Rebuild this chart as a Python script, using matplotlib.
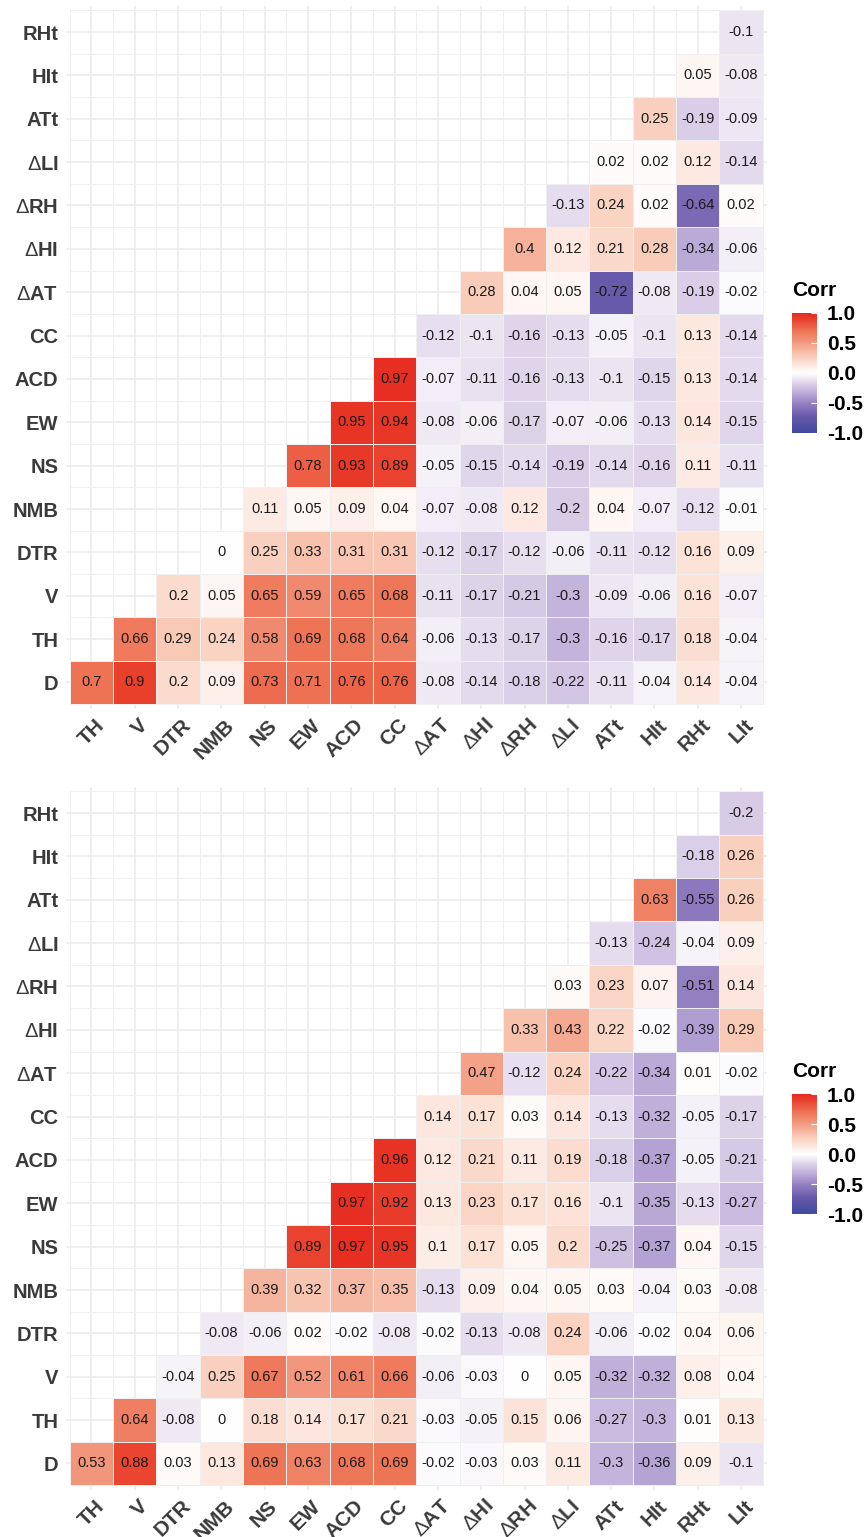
import numpy as np
import matplotlib
matplotlib.use("Agg")
import matplotlib.pyplot as plt
from matplotlib.colors import LinearSegmentedColormap
from matplotlib.transforms import ScaledTranslation

plt.rcParams['font.family'] = ['Liberation Sans', 'DejaVu Sans']
plt.rcParams['mathtext.fontset'] = 'custom'
plt.rcParams['mathtext.rm'] = 'Liberation Sans'

# labels (rows go bottom -> top, columns left -> right)
D = r'$\mathrm{\Delta}$'
row_labels = ['D', 'TH', 'V', 'DTR', 'NMB', 'NS', 'EW', 'ACD', 'CC',
              D + 'AT', D + 'HI', D + 'RH', D + 'LI', 'ATt', 'HIt', 'RHt']
col_labels = ['TH', 'V', 'DTR', 'NMB', 'NS', 'EW', 'ACD', 'CC',
              D + 'AT', D + 'HI', D + 'RH', D + 'LI', 'ATt', 'HIt', 'RHt', 'LIt']

# top panel, each row starts at the diagonal
top_D = [0.7, 0.9, 0.2, 0.09, 0.73, 0.71, 0.76, 0.76, -0.08, -0.14, -0.18, -0.22, -0.11, -0.04, 0.14, -0.04]
top_TH = [0.66, 0.29, 0.24, 0.58, 0.69, 0.68, 0.64, -0.06, -0.13, -0.17, -0.3, -0.16, -0.17, 0.18, -0.04]
top_V = [0.2, 0.05, 0.65, 0.59, 0.65, 0.68, -0.11, -0.17, -0.21, -0.3, -0.09, -0.06, 0.16, -0.07]
top_DTR = [0, 0.25, 0.33, 0.31, 0.31, -0.12, -0.17, -0.12, -0.06, -0.11, -0.12, 0.16, 0.09]
top_NMB = [0.11, 0.05, 0.09, 0.04, -0.07, -0.08, 0.12, -0.2, 0.04, -0.07, -0.12, -0.01]
top_NS = [0.78, 0.93, 0.89, -0.05, -0.15, -0.14, -0.19, -0.14, -0.16, 0.11, -0.11]
top_EW = [0.95, 0.94, -0.08, -0.06, -0.17, -0.07, -0.06, -0.13, 0.14, -0.15]
top_ACD = [0.97, -0.07, -0.11, -0.16, -0.13, -0.1, -0.15, 0.13, -0.14]
top_CC = [-0.12, -0.1, -0.16, -0.13, -0.05, -0.1, 0.13, -0.14]
top_dAT = [0.28, 0.04, 0.05, -0.72, -0.08, -0.19, -0.02]
top_dHI = [0.4, 0.12, 0.21, 0.28, -0.34, -0.06]
top_dRH = [-0.13, 0.24, 0.02, -0.64, 0.02]
top_dLI = [0.02, 0.02, 0.12, -0.14]
top_ATt = [0.25, -0.19, -0.09]
top_HIt = [0.05, -0.08]
top_RHt = [-0.1]

# bottom panel
bot_D = [0.53, 0.88, 0.03, 0.13, 0.69, 0.63, 0.68, 0.69, -0.02, -0.03, 0.03, 0.11, -0.3, -0.36, 0.09, -0.1]
bot_TH = [0.64, -0.08, 0, 0.18, 0.14, 0.17, 0.21, -0.03, -0.05, 0.15, 0.06, -0.27, -0.3, 0.01, 0.13]
bot_V = [-0.04, 0.25, 0.67, 0.52, 0.61, 0.66, -0.06, -0.03, 0, 0.05, -0.32, -0.32, 0.08, 0.04]
bot_DTR = [-0.08, -0.06, 0.02, -0.02, -0.08, -0.02, -0.13, -0.08, 0.24, -0.06, -0.02, 0.04, 0.06]
bot_NMB = [0.39, 0.32, 0.37, 0.35, -0.13, 0.09, 0.04, 0.05, 0.03, -0.04, 0.03, -0.08]
bot_NS = [0.89, 0.97, 0.95, 0.1, 0.17, 0.05, 0.2, -0.25, -0.37, 0.04, -0.15]
bot_EW = [0.97, 0.92, 0.13, 0.23, 0.17, 0.16, -0.1, -0.35, -0.13, -0.27]
bot_ACD = [0.96, 0.12, 0.21, 0.11, 0.19, -0.18, -0.37, -0.05, -0.21]
bot_CC = [0.14, 0.17, 0.03, 0.14, -0.13, -0.32, -0.05, -0.17]
bot_dAT = [0.47, -0.12, 0.24, -0.22, -0.34, 0.01, -0.02]
bot_dHI = [0.33, 0.43, 0.22, -0.02, -0.39, 0.29]
bot_dRH = [0.03, 0.23, 0.07, -0.51, 0.14]
bot_dLI = [-0.13, -0.24, -0.04, 0.09]
bot_ATt = [0.63, -0.55, 0.26]
bot_HIt = [-0.18, 0.26]
bot_RHt = [-0.2]

top_rows = [top_D, top_TH, top_V, top_DTR, top_NMB, top_NS, top_EW, top_ACD,
            top_CC, top_dAT, top_dHI, top_dRH, top_dLI, top_ATt, top_HIt, top_RHt]
bot_rows = [bot_D, bot_TH, bot_V, bot_DTR, bot_NMB, bot_NS, bot_EW, bot_ACD,
            bot_CC, bot_dAT, bot_dHI, bot_dRH, bot_dLI, bot_ATt, bot_HIt, bot_RHt]

cmap = LinearSegmentedColormap.from_list('corr', [
    (0.0, '#3E48A0'), (0.14, '#695AAA'), (0.25, '#9682C3'), (0.35, '#C3B4DC'),
    (0.425, '#E1D7EB'), (0.5, '#FFFFFF'), (0.575, '#FCE4DA'), (0.65, '#F8C8B4'),
    (0.75, '#F29B82'), (0.85, '#EE7355'), (0.95, '#E9412D'), (1.0, '#E6281E')])

lab_color = '#3a3a3a'
fig = plt.figure(figsize=(8.67, 15.37), dpi=100)
W, H = 867.0, 1537.0


def draw_panel(top_px, rows):
    n = len(col_labels)
    ax = fig.add_axes([65.5 / W, 1 - (top_px + 702.5) / H, 701.5 / W, 702.5 / H])
    mat = np.full((n, n), np.nan)
    for i, r in enumerate(rows):
        mat[i, i:i + len(r)] = r
    mesh = ax.pcolormesh(np.arange(n + 1) - 0.5, np.arange(n + 1) - 0.5,
                         np.ma.masked_invalid(mat), cmap=cmap, vmin=-1, vmax=1,
                         edgecolors='#efefef', linewidth=0.6)
    for i, r in enumerate(rows):
        for k, v in enumerate(r):
            ax.text(i + k, i, f'{v:g}', ha='center', va='center',
                    fontsize=10.5, color='#1a1a1a')
    ax.set_xlim(-0.6, n - 0.4)
    ax.set_ylim(-0.6, n - 0.4)
    ax.set_xticks(range(n))
    ax.set_yticks(range(n))
    ax.set_xticklabels(col_labels, rotation=45, ha='right', va='top',
                       rotation_mode='anchor', fontsize=15,
                       fontweight='bold', color=lab_color)
    ax.set_yticklabels(row_labels, fontsize=14.5, fontweight='bold', color=lab_color)
    ax.tick_params(length=0)
    ax.tick_params(axis='y', pad=5)
    ax.tick_params(axis='x', pad=5)
    shift = ScaledTranslation(3 / 100, 0, fig.dpi_scale_trans)
    for lab in ax.get_xticklabels():
        lab.set_transform(lab.get_transform() + shift)
    ax.grid(color='#ebebeb', linewidth=1.1)
    ax.set_axisbelow(True)
    for s in ax.spines.values():
        s.set_visible(False)

    # legend
    leg_top = top_px + 307
    fig.text(792 / W, 1 - (leg_top - 32) / H, 'Corr', fontsize=15,
             fontweight='bold', color='black', va='top')
    cax = fig.add_axes([792 / W, 1 - (leg_top + 120) / H, 25 / W, 120 / H])
    cb = fig.colorbar(mesh, cax=cax, ticks=[-1, -0.5, 0, 0.5, 1])
    cb.outline.set_visible(False)
    cb.ax.set_yticklabels(['-1.0', '-0.5', '0.0', '0.5', '1.0'],
                          fontsize=15, fontweight='bold', color='black')
    cb.ax.tick_params(direction='in', color='white', length=4, width=0.8, pad=7)
    return ax


draw_panel(6, top_rows)
draw_panel(787, bot_rows)

plt.savefig('out.png', dpi=100)
